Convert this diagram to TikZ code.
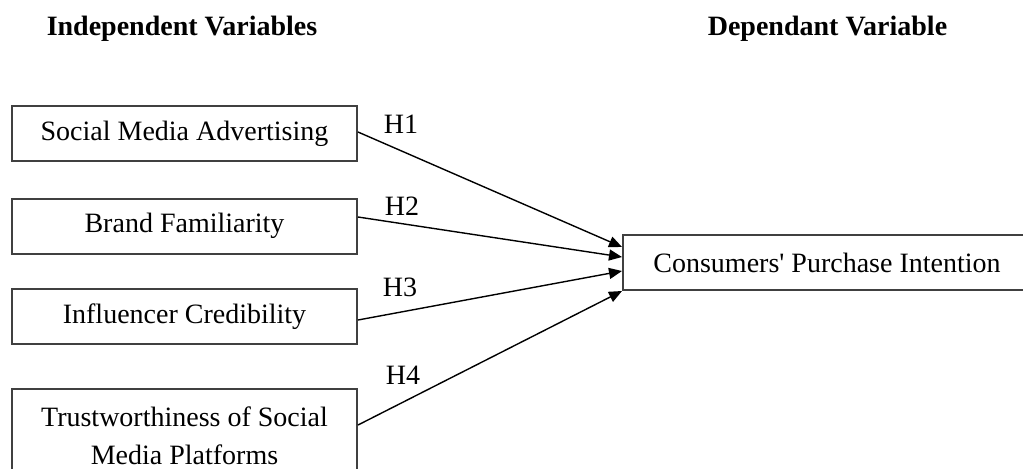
\documentclass[tikz,border=0pt]{standalone}
\usepackage{fontspec}
\setmainfont{Liberation Serif}
\usetikzlibrary{arrows.meta}

\begin{document}
\begin{tikzpicture}
			[x=.5pt,y=-.5pt,
			%Styles
			heading/.style={font=\fontsize{14}{17}\selectfont\bfseries,anchor=base},
			varbox/.style={draw=black!75,line width=1pt,minimum width=172.5pt,minimum height=27.5pt,
				font=\fontsize{14}{19}\selectfont,align=center,inner sep=0pt},
			hyp label/.style={font=\fontsize{14}{17}\selectfont},
			hyp arrow/.style={line width=.7pt,-{Triangle[length=6.5pt,width=5.5pt]}}
			]
			
			\useasboundingbox (0,0) rectangle (1023,468);
			
			%Headings
			\node[heading] (indep) at (182,35) {Independent Variables};
			\node[heading] (dep) at (827.5,35) {Dependant Variable};
			
			%The graphic
			\node[varbox] (sma) at (184.5,133.5) {Social Media Advertising};
			\node[varbox] (bf) at (184.5,226) {Brand Familiarity};
			\node[varbox] (ic) at (184.5,316.5) {Influencer Credibility};
			\node[varbox,anchor=north,minimum height=47pt] (tsm) at (184.5,388)
				{Trustworthiness of Social\\ Media Platforms};
			\node[varbox,minimum width=204pt] (cpi) at (827,262.5) {Consumers\textquotesingle{} Purchase Intention};
			
			\path[hyp arrow]
				([yshift=.75pt]sma.east) edge ([yshift=7.75pt]cpi.west)
				([yshift=4.5pt]bf.east) edge ([yshift=2.75pt]cpi.west)
				([yshift=-1.75pt]ic.east) edge ([yshift=-4.25pt]cpi.west)
				([yshift=-18.5pt]tsm.north east) edge (cpi.south west);
			
			\node[hyp label] (h1) at (401,124) {H1};
			\node[hyp label] (h2) at (402,206) {H2};
			\node[hyp label] (h3) at (400,287) {H3};
			\node[hyp label] (h4) at (403,375) {H4};
		\end{tikzpicture}
\end{document}
